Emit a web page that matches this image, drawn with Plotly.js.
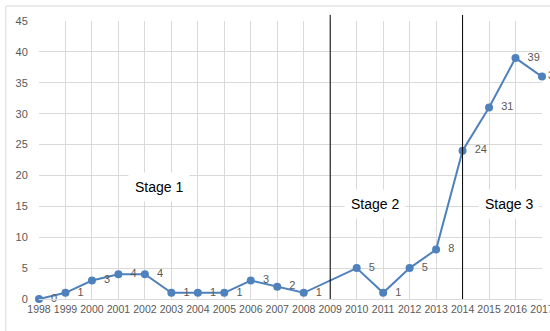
<!DOCTYPE html>
<html>
<head>
<meta charset="utf-8">
<script src="https://cdn.plot.ly/plotly-3.0.1.min.js"></script>
<style>html,body{margin:0;padding:0;background:#fff;}#chart{width:550px;height:331px;}</style>
</head>
<body>
<div id="chart"></div>
<script>
const years = [1998, 1999, 2000, 2001, 2002, 2003, 2004, 2005, 2006, 2007, 2008, 2010, 2011, 2012, 2013, 2014, 2015, 2016, 2017];
const counts = [0, 1, 3, 4, 4, 1, 1, 1, 3, 2, 1, 5, 1, 5, 8, 24, 31, 39, 36];
const tickYears = [1998,1999,2000,2001,2002,2003,2004,2005,2006,2007,2008,2009,2010,2011,2012,2013,2014,2015,2016,2017];
const stageBounds = [2009, 2014];
const stageNames = ['Stage 1', 'Stage 2', 'Stage 3'];
const stageX = [2002.55, 2010.7, 2015.75];
const stageY = [18.1, 15.4, 15.4];

const font = "'Liberation Sans', Arial, sans-serif";
const pad = '\u00a0\u00a0';
const trace = {
  x: years, y: counts, type: 'scatter', mode: 'lines+markers+text',
  text: counts.map((v, i) => (i === counts.length - 1 ? '' : pad) + v), textposition: 'middle right',
  textfont: {family: font, size: 11, color: '#595959'},
  line: {color: '#4F81BD', width: 2},
  marker: {color: '#4F81BD', size: 8},
  cliponaxis: false, hoverinfo: 'skip'
};

const shapes = stageBounds.map(v => ({
  type: 'line', xref: 'x', yref: 'paper', x0: v, x1: v, y0: 0, y1: 1.022,
  line: {color: '#000', width: 1}
}));
shapes.push({type: 'rect', xref: 'paper', yref: 'paper', x0: -0.066, x1: 1.2, y0: -0.2, y1: 1.054,
  line: {color: '#d9d9d9', width: 1}, layer: 'below'});

const annotations = stageNames.map((s, i) => ({
  x: stageX[i], y: stageY[i], xref: 'x', yref: 'y', text: s, showarrow: false,
  font: {family: font, size: 14, color: '#000'}, bgcolor: '#fff', borderpad: 6
}));

const layout = {
  width: 550, height: 331,
  margin: {l: 39, r: 8, t: 21, b: 32},
  paper_bgcolor: '#fff', plot_bgcolor: '#fff',
  showlegend: false,
  xaxis: {range: [1998, 2017.0005], tickmode: 'array', tickvals: tickYears, ticktext: tickYears.map(String),
    showgrid: true, gridcolor: '#d9d9d9', zeroline: false, showline: true, linecolor: '#d9d9d9',
    tickfont: {family: font, size: 10.5, color: '#595959'}, ticks: '', fixedrange: true, automargin: false,
    ticklabeloverflow: 'allow'},
  yaxis: {range: [0, 45], dtick: 5, showgrid: true, gridcolor: '#d9d9d9', zeroline: false, showline: false,
    tickfont: {family: font, size: 11, color: '#595959'}, ticks: 'outside', ticklen: 8, tickcolor: 'rgba(0,0,0,0)', fixedrange: true},
  shapes: shapes,
  annotations: annotations
};

Plotly.newPlot('chart', [trace], layout, {staticPlot: true, displayModeBar: false});
</script>
</body>
</html>
